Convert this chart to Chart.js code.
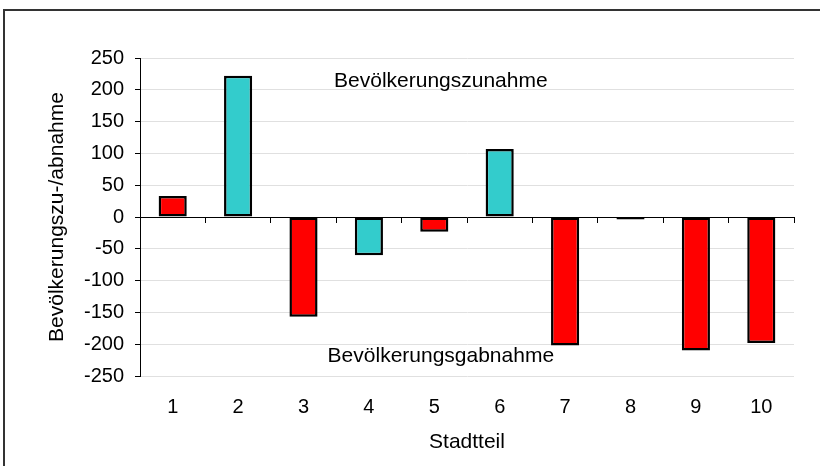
<!DOCTYPE html>
<html lang="de">
<head>
<meta charset="utf-8">
<title>Bevölkerungszu-/abnahme nach Stadtteil</title>
<script src="https://cdn.jsdelivr.net/npm/chart.js@4/dist/chart.umd.min.js"></script>
<style>
    html, body { margin: 0; padding: 0; background: #fff; }
    #wrap { position: relative; width: 820px; height: 466px; overflow: hidden; }
    #frame {
        position: absolute; left: 3px; top: 9px; width: 900px; height: 600px;
        border-left: 2px solid #333; border-top: 2px solid #333; pointer-events: none;
    }
</style>
</head>
<body>
<div id="wrap">
    <canvas id="chart" width="820" height="466"></canvas>
    <div id="frame"></div>
</div>
<script>
// --- Daten ---
const stadtteile = ['1', '2', '3', '4', '5', '6', '7', '8', '9', '10'];
const veraenderung = [33, 222, -157, -60, -23, 107, -202, -4, -210, -198];
// Gruppe je Stadtteil (bestimmt nur die Farbe)
const gruppe = ['B', 'A', 'B', 'A', 'B', 'A', 'B', 'B', 'B', 'B'];
const yTicks = [-250, -200, -150, -100, -50, 0, 50, 100, 150, 200, 250];

const gruppenFarbe = { A: '#33CCCC', B: '#FF0000' };

// Beschriftungen im Diagramm: Position in Achsenwerten (Kategorie-Index, Wert)
const hinweise = [
    { text: 'Bevölkerungszunahme', x: 4.1, y: 204 },
    { text: 'Bevölkerungsgabnahme', x: 4.1, y: -228 }
];

const schrift = '"Liberation Sans", Arial, sans-serif';
Chart.defaults.font.family = schrift;
Chart.defaults.color = '#000';

const hinweisPlugin = {
    id: 'hinweise',
    afterDatasetsDraw(chart) {
        const { ctx, scales } = chart;
        ctx.save();
        ctx.font = '21px ' + schrift;
        ctx.fillStyle = '#000';
        ctx.textAlign = 'center';
        ctx.textBaseline = 'alphabetic';
        hinweise.forEach(h => {
            ctx.fillText(h.text, scales.x.getPixelForValue(h.x), scales.y.getPixelForValue(h.y));
        });
        ctx.restore();
    }
};

new Chart(document.getElementById('chart'), {
    type: 'bar',
    data: {
        labels: stadtteile,
        datasets: [{
            data: veraenderung,
            backgroundColor: gruppe.map(g => gruppenFarbe[g]),
            borderColor: '#000',
            borderWidth: 2.5,
            borderSkipped: false,
            categoryPercentage: 1,
            barPercentage: 0.43
        }]
    },
    options: {
        responsive: false,
        animation: false,
        devicePixelRatio: 1,
        layout: { padding: { top: 58, right: 26, bottom: 0, left: 0 } },
        plugins: {
            legend: { display: false },
            tooltip: { enabled: false }
        },
        scales: {
            x: {
                position: 'bottom',
                grid: { display: false, drawTicks: false },
                border: { display: false },
                ticks: { font: { size: 20 }, padding: 19, maxRotation: 0 },
                title: {
                    display: true,
                    text: 'Stadtteil',
                    font: { size: 21 },
                    padding: { top: 10, bottom: 11 }
                },
                afterFit: s => { s.height = 90; }
            },
            // Nulllinie mit Teilstrichen zwischen den Kategorien
            x0: {
                type: 'category',
                position: { y: 0 },
                offset: true,
                grid: {
                    offset: true,
                    drawOnChartArea: false,
                    drawTicks: true,
                    tickLength: 5,
                    color: '#000'
                },
                border: { display: true, color: '#000', width: 1 },
                ticks: { display: false },
                title: { display: false },
                afterFit: s => { s.height = 0; }
            },
            y: {
                min: -250,
                max: 250,
                afterBuildTicks: s => { s.ticks = yTicks.map(v => ({ value: v })); },
                afterFit: s => { s.width = 140; },
                grid: {
                    color: '#e0e0e0',
                    drawTicks: true,
                    tickLength: 5,
                    tickColor: '#000'
                },
                border: { display: true, color: '#000', width: 1 },
                ticks: { font: { size: 20 }, padding: 11 },
                title: {
                    display: true,
                    text: 'Bevölkerungszu-/abnahme',
                    font: { size: 21 },
                    padding: { top: 45, bottom: 0 }
                }
            }
        }
    },
    plugins: [hinweisPlugin]
});
</script>
</body>
</html>
